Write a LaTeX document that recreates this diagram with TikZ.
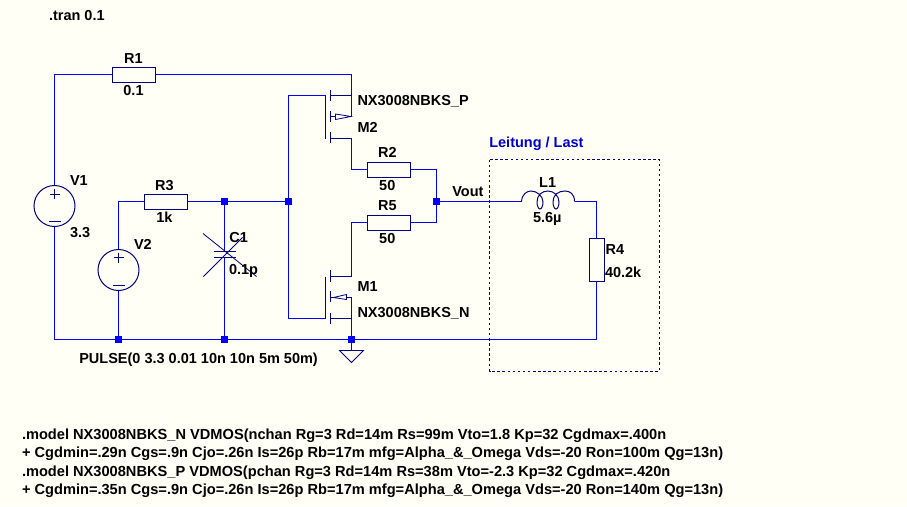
\documentclass[tikz,border=0pt]{standalone}
\usepackage{fontspec}
\setmainfont{Liberation Sans}[BoldFont={Liberation Sans Bold}]
\definecolor{bgc}{RGB}{255,255,245}
\definecolor{wirec}{RGB}{0,0,255}
\definecolor{compc}{RGB}{0,0,128}
\tikzset{
  wire/.style={draw=wirec,line width=1.2pt},
  comp/.style={draw=compc,line width=1pt},
  thinc/.style={draw=compc,line width=0.8pt},
  resbox/.style={draw=compc,line width=1pt,rectangle,fill=bgc,inner sep=0pt,minimum width=43pt,minimum height=15pt},
  resboxv/.style={draw=compc,line width=1pt,rectangle,fill=bgc,inner sep=0pt,minimum width=15pt,minimum height=43pt},
  src/.style={draw=compc,line width=1pt,circle,inner sep=0pt,minimum size=41pt},
  junc/.style={fill=wirec,rectangle,inner sep=0pt,minimum size=7pt},
  lbl/.style={inner sep=0pt,outer sep=0pt,font=\fontsize{14.5pt}{17pt}\selectfont\bfseries,text=black},
  lbll/.style={lbl,anchor=base west},
  lblc/.style={lbl,anchor=base},
  modelline/.style={lbll,font=\fontsize{14.62pt}{17pt}\selectfont\bfseries},
}
\begin{document}
\begin{tikzpicture}[x=1pt,y=-1pt]
\useasboundingbox (0,0) rectangle (907,506);
\fill[bgc] (0,0) rectangle (907,506);
% anchor points
\coordinate (tl) at (54.5,74.5);
\coordinate (tr) at (351.5,74.5);
\coordinate (bl) at (54.5,339.5);
\coordinate (br) at (596.5,339.5);
% junctions
\node[junc] (jV2) at (118.5,339.5) {};
\node[junc] (jC1b) at (224.5,339.5) {};
\node[junc] (jGnd) at (351.5,339.5) {};
\node[junc] (jC1t) at (224.5,201.5) {};
\node[junc] (jGate) at (288.5,201.5) {};
\node[junc] (jOut) at (436.5,201.5) {};
% components
\node[resbox] (R1) at (133.5,74.5) {};
\node[resbox] (R2) at (389,169.5) {};
\node[resbox] (R5) at (389,222.5) {};
\node[resbox] (R3) at (166,201.5) {};
\node[resboxv] (R4) at (596.5,260) {};
\node[src] (V1) at (54.5,206) {};
\node[src] (V2) at (118.5,270) {};
\coordinate (C1t) at (224.5,251.5);
\coordinate (C1b) at (224.5,257);
\coordinate (L1a) at (521.5,201.5);
\coordinate (L1b) at (574.5,201.5);
% M2 points
\coordinate (M2g) at (325.5,95.5);
\coordinate (M2s) at (330.5,95.5);
\coordinate (M2sw) at (351.5,95.5);
\coordinate (M2b) at (351.5,116.5);
\coordinate (M2d) at (330.5,138.5);
\coordinate (M2dw) at (351.5,138.5);
% M1 points
\coordinate (M1g) at (325.5,318.5);
\coordinate (M1s) at (330.5,318.5);
\coordinate (M1sw) at (351.5,318.5);
\coordinate (M1b) at (351.5,297.5);
\coordinate (M1d) at (330.5,276.5);
\coordinate (M1dw) at (351.5,276.5);
\coordinate (gndtop) at (351.5,350.5);
% wires
\draw[wire] (V1.north) -- (tl) -- (R1.west);
\draw[wire] (R1.east) -- (tr) -- (M2b);
\draw[wire] (V1.south) -- (bl) -- (jV2) -- (jC1b) -- (jGnd) -- (br) -- (R4.south);
\draw[wire] (V2.north) -- (V2.north |- R3.west) -- (R3.west);
\draw[wire] (V2.south) -- (jV2);
\draw[wire] (R3.east) -- (jC1t) -- (jGate);
\draw[wire] (jC1t) -- (C1t);
\draw[wire] (C1b) -- (jC1b);
\draw[wire] (jGate) |- (M2g);
\draw[wire] (jGate) |- (M1g);
\draw[wire] (M2dw) |- (R2.west);
\draw[wire] (R2.east) -| (jOut);
\draw[wire] (R5.east) -| (jOut);
\draw[wire] (R5.west) -| (M1dw);
\draw[wire] (M1b) -- (jGnd);
\draw[wire] (jOut) -- (L1a);
\draw[wire] (L1b) -| (R4.north);
\draw[wire] (jGnd) -- (gndtop);
% V signs
\draw[comp] (49.5,194) -- (59.5,194) (54.5,189) -- (54.5,199);
\draw[comp] (48.5,221) -- (60.5,221);
\draw[comp] (113.5,257.5) -- (123.5,257.5) (118.5,252.5) -- (118.5,262.5);
\draw[comp] (112.5,285) -- (124.5,285);
% C1
\draw[comp] (213.5,251.5) -- (235.5,251.5) (213.5,257) -- (235.5,257);
\draw[thinc] (203,233.5) -- (256.5,276.5);
\draw[thinc] (203.5,276.5) -- (242.5,237.5);
% L1
\draw[comp] (L1a) .. controls (522,194) and (527,191) .. (531,191)
  .. controls (537,191) and (543,196) .. (543,202)
  .. controls (543,206) and (541.5,209) .. (540,209)
  .. controls (538.5,209) and (537,206) .. (537,202)
  .. controls (537,195) and (542,191) .. (548,191)
  .. controls (554,191) and (559,196) .. (559,202)
  .. controls (559,206) and (557.5,209) .. (556,209)
  .. controls (554.5,209) and (553,206) .. (553,202)
  .. controls (553,195) and (558,191) .. (565,191)
  .. controls (570,191) and (574.5,194) .. (L1b);
% M2
\draw[comp] (M2g |- 0,95.5) -- (325.5,138.5);
\draw[comp] (330.5,90) -- (330.5,101) (330.5,111) -- (330.5,122) (330.5,132) -- (330.5,143);
\draw[comp] (M2s) -- (M2sw) (M2d) -- (M2dw);
\draw[comp] (330.5,116.5) -- (335.5,116.5);
\draw[thinc] (335.5,114) -- (335.5,119.5) -- (351,116.5) -- cycle;
% M1
\draw[comp] (325.5,276.5) -- (M1g);
\draw[comp] (330.5,270) -- (330.5,281.5) (330.5,291) -- (330.5,301.5) (330.5,313) -- (330.5,323.5);
\draw[comp] (M1s) -- (M1sw) (M1d) -- (M1dw);
\draw[comp] (330.5,297.5) -- (333.5,297.5) (346.5,297.5) -- (M1b);
\draw[thinc] (333.5,297.5) -- (346.5,294.5) -- (346.5,299.5) -- cycle;
% ground
\draw[thinc] (339.5,350.5) -- (363.5,350.5) -- (351.5,362.5) -- cycle;
% load frame
\draw[compc,line width=1pt,dash pattern=on 2.5pt off 2.6pt] (489.5,159.5) rectangle (659.5,371);
% labels
\node[lbll] (ttran) at (49,20) {.tran 0.1};
\node[lblc] (tR1) at (133.5,63.3) {R1};
\node[lblc] (vR1) at (133.5,95) {0.1};
\node[lblc] (tR3) at (164.5,190) {R3};
\node[lblc] (vR3) at (164.5,222.7) {1k};
\node[lbll] (tV1) at (70,185) {V1};
\node[lbll] (vV1) at (70,237.3) {3.3};
\node[lbll] (tV2) at (134,249) {V2};
\node[lbll] (tC1) at (229.3,242.7) {C1};
\node[lbll] (vC1) at (229,274.7) {0.1p};
\node[lbll] (vV2) at (79.3,363.3) {PULSE(0 3.3 0.01 10n 10n 5m 50m)};
\node[lblc] (tR2) at (387.3,157.7) {R2};
\node[lblc] (vR2) at (387.3,190.7) {50};
\node[lblc] (tR5) at (387.3,210.7) {R5};
\node[lblc] (vR5) at (387.3,243.3) {50};
\node[lbll] (vM2) at (357.5,105) {NX3008NBKS\_P};
\node[lbll] (tM2) at (357.5,132) {M2};
\node[lbll] (tM1) at (357.5,291) {M1};
\node[lbll] (vM1) at (357.5,317.7) {NX3008NBKS\_N};
\node[lbll] (tOut) at (452.3,196.7) {Vout};
\node[lblc] (tL1) at (547.7,187.3) {L1};
\node[lblc] (vL1) at (547.3,222.7) {5.6µ};
\node[lbll] (tR4) at (605.7,254) {R4};
\node[lbll] (vR4) at (605,277.3) {40.2k};
\node[lbll,text=wirec!80!black] (tLoad) at (489.3,147.3) {Leitung / Last};
\node[modelline] (m1) at (22,439.6) {.model NX3008NBKS\_N VDMOS(nchan Rg=3 Rd=14m Rs=99m Vto=1.8 Kp=32 Cgdmax=.400n};
\node[modelline] (m2) at (22,457.6) {+ Cgdmin=.29n Cgs=.9n Cjo=.26n Is=26p Rb=17m mfg=Alpha\_\&\_Omega Vds=-20 Ron=100m Qg=13n)};
\node[modelline] (m3) at (22,476) {.model NX3008NBKS\_P VDMOS(pchan Rg=3 Rd=14m Rs=38m Vto=-2.3 Kp=32 Cgdmax=.420n};
\node[modelline] (m4) at (22,494) {+ Cgdmin=.35n Cgs=.9n Cjo=.26n Is=26p Rb=17m mfg=Alpha\_\&\_Omega Vds=-20 Ron=140m Qg=13n)};
\end{tikzpicture}
\end{document}
